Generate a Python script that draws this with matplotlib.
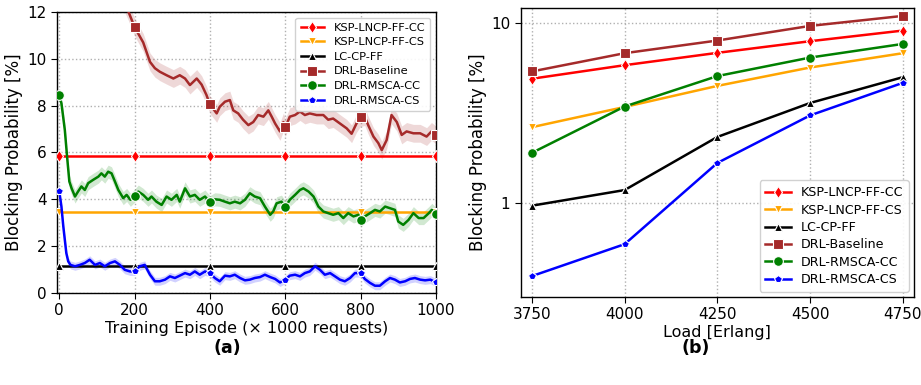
import numpy as np
import matplotlib
matplotlib.use("Agg")
import matplotlib.pyplot as plt

# ---------------- Data: panel (a) ----------------
episodes_marks = [0, 200, 400, 600, 800, 1000]
ksp_cc_level = 5.85
ksp_cs_level = 3.45
lc_cp_ff_level = 1.17

base_x = [0, 100, 183, 200, 223, 241, 254, 267, 285, 303, 320, 334, 347, 365, 378, 391, 400,
          418, 426, 440, 453, 462, 475, 488, 502, 515, 528, 542, 555, 564, 573, 586, 595, 600,
          612, 626, 639, 652, 665, 683, 701, 714, 727, 745, 763, 776, 789, 800, 811, 820, 834,
          847, 856, 869, 882, 896, 909, 922, 940, 958, 975, 988, 1000]
base_y = [20.0, 15.0, 12.05, 11.36, 10.7, 9.87, 9.6, 9.45, 9.3, 9.16, 9.3, 9.16, 8.88, 9.16, 8.9, 8.45, 8.05,
          7.67, 7.95, 8.17, 8.24, 7.8, 7.67, 7.4, 7.17, 7.3, 7.6, 7.53, 7.8, 7.53, 7.24, 6.9, 7.3, 7.07,
          7.53, 7.6, 7.75, 7.6, 7.67, 7.6, 7.6, 7.4, 7.45, 7.24, 7.03, 6.8, 7.24, 7.5, 7.53, 7.17, 6.68,
          6.4, 6.1, 6.53, 7.6, 7.3, 6.75, 6.9, 6.82, 6.82, 6.68, 6.9, 6.75]

cc_x = [0, 6, 15, 21, 27, 33, 42, 50, 59, 68, 77, 90, 104, 112, 121, 130, 139, 148, 157, 170, 179,
        189, 200, 210, 223, 236, 245, 258, 272, 285, 298, 312, 320, 334, 347, 360, 373, 387, 400,
        413, 426, 440, 453, 466, 480, 493, 506, 519, 533, 546, 560, 568, 577, 590, 600, 612, 626,
        639, 648, 662, 675, 688, 701, 714, 727, 741, 754, 767, 781, 794, 800, 811, 825, 838, 851,
        865, 878, 891, 900, 913, 927, 940, 954, 967, 981, 989, 1000]
cc_y = [8.45, 8.1, 6.96, 5.82, 4.76, 4.47, 4.12, 4.33, 4.55, 4.4, 4.69, 4.83, 4.97, 5.11, 4.97, 5.18, 5.11,
        4.76, 4.4, 4.05, 4.19, 3.98, 4.15, 4.33, 4.19, 3.98, 4.12, 3.9, 3.76, 4.12, 3.98, 4.19, 3.9, 4.47,
        4.12, 4.19, 3.98, 4.12, 3.88, 4.0, 3.98, 3.9, 3.83, 3.9, 3.83, 3.98, 4.26, 4.12, 4.05, 3.69, 3.34,
        3.48, 3.83, 3.9, 3.66, 3.98, 4.19, 4.4, 4.47, 4.33, 4.12, 3.69, 3.48, 3.41, 3.34, 3.41, 3.2, 3.41,
        3.27, 3.34, 3.1, 3.27, 3.41, 3.55, 3.48, 3.69, 3.62, 3.55, 3.05, 2.91, 3.12, 3.41, 3.2, 3.2, 3.41,
        3.55, 3.37]

cs_x = [0, 6, 11, 15, 19, 24, 30, 42, 55, 68, 81, 95, 108, 121, 135, 148, 161, 174, 188, 200, 214,
        227, 241, 254, 267, 281, 294, 307, 320, 334, 347, 360, 373, 387, 400, 413, 426, 440, 453, 466,
        480, 493, 506, 519, 533, 546, 560, 573, 586, 600, 612, 626, 639, 652, 665, 679, 692, 705, 719,
        732, 745, 758, 772, 785, 800, 811, 825, 838, 851, 865, 878, 891, 904, 918, 931, 944, 958, 971,
        985, 1000]
cs_y = [4.37, 3.69, 2.84, 2.27, 1.7, 1.35, 1.2, 1.14, 1.2, 1.28, 1.42, 1.2, 1.28, 1.14, 1.28, 1.35, 1.2,
        0.99, 0.92, 0.92, 1.14, 1.2, 0.78, 0.5, 0.5, 0.57, 0.71, 0.64, 0.74, 0.85, 0.78, 0.92, 0.78, 0.92,
        0.85, 0.64, 0.5, 0.74, 0.71, 0.78, 0.64, 0.54, 0.57, 0.64, 0.68, 0.78, 0.68, 0.6, 0.45, 0.57, 0.74,
        0.78, 0.71, 0.85, 0.92, 1.14, 0.99, 0.78, 0.85, 0.71, 0.57, 0.5, 0.64, 0.85, 0.85, 0.6, 0.43, 0.31,
        0.31, 0.5, 0.64, 0.57, 0.45, 0.5, 0.6, 0.64, 0.57, 0.54, 0.57, 0.45]

base_band = 0.38
cc_band = 0.28
cs_band = 0.17

# ---------------- Data: panel (b) ----------------
loads = [3750, 4000, 4250, 4500, 4750]
b_ksp_cc = [4.91, 5.84, 6.84, 7.94, 9.1]
b_ksp_cs = [2.64, 3.42, 4.48, 5.67, 6.81]
b_lc_cp_ff = [0.966, 1.18, 2.33, 3.6, 5.01]
b_baseline = [5.39, 6.81, 8.01, 9.66, 10.98]
b_cc = [1.90, 3.44, 5.08, 6.44, 7.67]
b_cs = [0.392, 0.59, 1.67, 3.07, 4.66]

labels = ["KSP-LNCP-FF-CC", "KSP-LNCP-FF-CS", "LC-CP-FF",
          "DRL-Baseline", "DRL-RMSCA-CC", "DRL-RMSCA-CS"]
colors = ["#ff0000", "#ffa500", "#000000", "#a52a2a", "#008000", "#0000ff"]
markers = ["d", "v", "^", "s", "o", "p"]
msizes = [6, 6, 6, 7, 7, 6]

plt.rcParams['font.family'] = ['DejaVu Sans']

fig = plt.figure(figsize=(9.21, 3.85), dpi=100)
axa = fig.add_axes([0.0622, 0.239, 0.4112, 0.7298])
axb = fig.add_axes([0.5654, 0.2286, 0.4270, 0.7498])

def style_axes(ax):
    for s in ax.spines.values():
        s.set_color("black")
        s.set_linewidth(1.0)
    ax.grid(True, which="major", linestyle=":", color="#b0b0b0", linewidth=1.0)
    ax.tick_params(which="major", direction="out", length=4, labelsize=11)
    ax.set_axisbelow(True)

# ---- panel (a)
style_axes(axa)
mk = np.array(episodes_marks, dtype=float)
levels = [ksp_cc_level, ksp_cs_level, lc_cp_ff_level]
for i, lev in enumerate(levels):
    axa.plot(mk, np.full_like(mk, lev), color=colors[i], lw=1.8, marker=markers[i],
             ms=msizes[i], mec="white", mew=0.8, label=labels[i], zorder=3)

series = [(base_x, base_y, base_band), (cc_x, cc_y, cc_band), (cs_x, cs_y, cs_band)]
for j, (xs, ys, w) in enumerate(series):
    i = j + 3
    xs = np.array(xs, float)
    ys = np.array(ys, float)
    axa.fill_between(xs, ys - w, ys + w, color=colors[i], alpha=0.18, lw=0, zorder=2)
    idx = [k for k, v in enumerate(xs) if v in episodes_marks]
    axa.plot(xs, ys, color=colors[i], lw=1.8, marker=markers[i], ms=msizes[i],
             mec="white", mew=0.8, markevery=idx, label=labels[i], zorder=4)

axa.set_xlim(-5, 1000)
axa.set_ylim(0, 12)
axa.set_xticks([0, 200, 400, 600, 800, 1000])
axa.set_yticks([0, 2, 4, 6, 8, 10, 12])
axa.set_xlabel("Training Episode (× 1000 requests)", fontsize=11.5, labelpad=2)
axa.set_ylabel("Blocking Probability [%]", fontsize=12, labelpad=3)
axa.legend(loc="upper right", fontsize=8.2, frameon=True, handlelength=2.1,
           borderpad=0.45, labelspacing=0.4, framealpha=0.9, edgecolor="#cccccc")

# ---- panel (b)
style_axes(axb)
bdata = [b_ksp_cc, b_ksp_cs, b_lc_cp_ff, b_baseline, b_cc, b_cs]
for i, ys in enumerate(bdata):
    axb.plot(loads, ys, color=colors[i], lw=1.8, marker=markers[i], ms=msizes[i],
             mec="white", mew=0.8, label=labels[i], zorder=3)
axb.set_yscale("log")
axb.set_xlim(3720, 4780)
axb.set_ylim(0.30, 12.1)
axb.set_xticks(loads)
axb.set_yticks([1, 10])
axb.set_yticklabels(["1", "10"])
axb.tick_params(which="minor", length=0)
axb.yaxis.set_minor_formatter(matplotlib.ticker.NullFormatter())
axb.set_xlabel("Load [Erlang]", fontsize=11.5, labelpad=2)
axb.set_ylabel("Blocking Probability [%]", fontsize=12, labelpad=3)
axb.legend(loc="lower right", fontsize=9.1, frameon=True, handlelength=2.0,
           borderpad=0.45, labelspacing=0.35, framealpha=0.9, edgecolor="#cccccc",
           borderaxespad=0.4)

fig.text(0.247, 0.095, "(a)", fontsize=12.5, fontweight="bold", ha="center", va="center")
fig.text(0.755, 0.095, "(b)", fontsize=12.5, fontweight="bold", ha="center", va="center")

fig.savefig("out.png", dpi=100)
